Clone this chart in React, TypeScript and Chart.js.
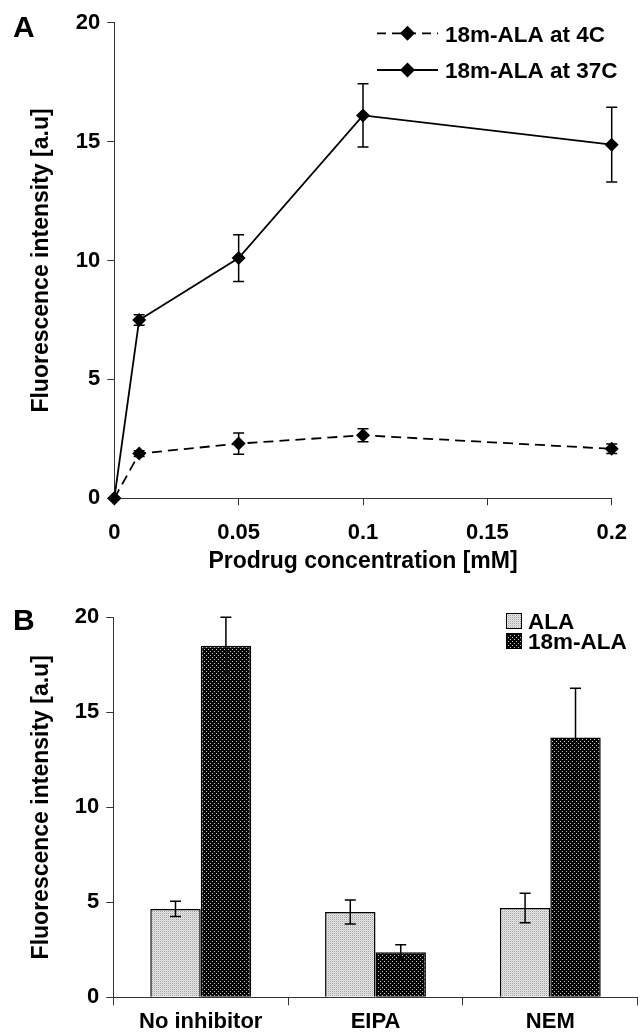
import React, { useEffect, useRef } from 'react';
import { Chart, registerables } from 'chart.js';

Chart.register(...registerables);

const FONT_FAMILY = '"Liberation Sans", Arial, Helvetica, sans-serif';

// ---- Panel A data ----
const concentrations = [0, 0.01, 0.05, 0.1, 0.2];
const concentrationTicks = [0, 0.05, 0.1, 0.15, 0.2];
const intensityAt4C = [0, 1.88, 2.3, 2.65, 2.08];
const errorAt4C = [0, 0.12, 0.45, 0.27, 0.2];
const intensityAt37C = [0, 7.5, 10.1, 16.1, 14.87];
const errorAt37C = [0, 0.22, 0.98, 1.33, 1.57];
const seriesNamesA = ['18m-ALA at 4C', '18m-ALA at 37C'];

// ---- Panel B data ----
const inhibitors = ['No inhibitor', 'EIPA', 'NEM'];
const alaValues = [4.65, 4.49, 4.7];
const alaErrors = [0.4, 0.63, 0.78];
const m18AlaValues = [18.5, 2.37, 13.68];
const m18AlaErrors = [1.5, 0.4, 2.58];
const seriesNamesB = ['ALA', '18m-ALA'];

const intensityTicks = [0, 5, 10, 15, 20];
const yTitle = 'Fluorescence intensity [a.u]';
const xTitleA = 'Prodrug concentration [mM]';

const boldFont = (size: number) => ({ family: FONT_FAMILY, size, weight: 'bold' as const });

function makePattern(kind: 'light' | 'dark'): CanvasPattern | string {
  const c = document.createElement('canvas');
  const ctx = c.getContext('2d');
  if (!ctx) return kind === 'light' ? '#d4d4d4' : '#111';
  if (kind === 'light') {
    c.width = 2; c.height = 2;
    ctx.fillStyle = '#e8e8e8';
    ctx.fillRect(0, 0, 2, 2);
    ctx.fillStyle = '#a0a0a0';
    ctx.fillRect(0, 0, 1, 1);
    ctx.fillStyle = '#d0d0d0';
    ctx.fillRect(1, 1, 1, 1);
  } else {
    c.width = 4; c.height = 4;
    ctx.fillStyle = '#050505';
    ctx.fillRect(0, 0, 4, 4);
    ctx.fillStyle = '#c8c8c8';
    ctx.fillRect(0, 0, 1, 1);
    ctx.fillRect(2, 2, 1, 1);
  }
  const p = ctx.createPattern(c, 'repeat');
  return p || (kind === 'light' ? '#d4d4d4' : '#111');
}

const errorBarPlugin = {
  id: 'errorBars',
  afterDatasetsDraw(chart: any) {
    const ctx = chart.ctx;
    const yScale = chart.scales.y;
    chart.data.datasets.forEach((ds: any, i: number) => {
      const errs: number[] | undefined = ds.errors;
      if (!errs) return;
      const meta = chart.getDatasetMeta(i);
      meta.data.forEach((el: any, j: number) => {
        const e = errs[j];
        if (!e) return;
        const raw = ds.data[j];
        const val = typeof raw === 'number' ? raw : raw.y;
        const x = el.x;
        const yTop = yScale.getPixelForValue(val + e);
        const yBot = yScale.getPixelForValue(val - e);
        ctx.save();
        ctx.strokeStyle = '#000';
        ctx.lineWidth = 1.5;
        ctx.setLineDash([]);
        ctx.beginPath();
        ctx.moveTo(x, yTop); ctx.lineTo(x, yBot);
        ctx.moveTo(x - 5.5, yTop); ctx.lineTo(x + 5.5, yTop);
        ctx.moveTo(x - 5.5, yBot); ctx.lineTo(x + 5.5, yBot);
        ctx.stroke();
        ctx.restore();
      });
    });
  },
};

function diamond(ctx: CanvasRenderingContext2D, x: number, y: number, r: number) {
  ctx.beginPath();
  ctx.moveTo(x - r, y);
  ctx.lineTo(x, y - r);
  ctx.lineTo(x + r, y);
  ctx.lineTo(x, y + r);
  ctx.closePath();
  ctx.fill();
}

const axisCommon = {
  grid: { drawOnChartArea: false, drawTicks: true, tickLength: 7, color: '#333', lineWidth: 1 },
  border: { display: true, color: '#333', width: 1 },
};

export default function App() {
  const refA = useRef<HTMLCanvasElement>(null);
  const refB = useRef<HTMLCanvasElement>(null);

  useEffect(() => {
    if (!refA.current || !refB.current) return;

    const decorA = {
      id: 'decorA',
      afterDraw(chart: any) {
        const ctx = chart.ctx as CanvasRenderingContext2D;
        ctx.save();
        ctx.fillStyle = '#000';
        ctx.textBaseline = 'alphabetic';
        ctx.textAlign = 'left';
        ctx.font = `bold 30px ${FONT_FAMILY}`;
        ctx.fillText('A', 13, 37);
        // legend
        const rows = [33.3, 70];
        ctx.font = `bold 22.5px ${FONT_FAMILY}`;
        rows.forEach((ry, i) => {
          ctx.strokeStyle = '#000';
          ctx.lineWidth = 1.8;
          ctx.setLineDash(i === 0 ? [9, 6] : []);
          ctx.beginPath();
          ctx.moveTo(377, ry);
          ctx.lineTo(438, ry);
          ctx.stroke();
          ctx.setLineDash([]);
          diamond(ctx, 407.5, ry, 7.5);
          ctx.fillText(seriesNamesA[i], 445, ry + 8.2);
        });
        ctx.restore();
      },
    };

    const chartA = new Chart(refA.current, {
      type: 'line',
      data: {
        datasets: [
          {
            label: seriesNamesA[0],
            data: concentrations.map((c, i) => ({ x: c, y: intensityAt4C[i] })),
            errors: errorAt4C,
            borderColor: '#000',
            backgroundColor: '#000',
            borderWidth: 1.8,
            borderDash: [10, 6],
            pointStyle: 'rectRot',
            pointRadius: 7,
            pointBackgroundColor: '#000',
            pointBorderWidth: 0,
            tension: 0,
            clip: false,
          } as any,
          {
            label: seriesNamesA[1],
            data: concentrations.map((c, i) => ({ x: c, y: intensityAt37C[i] })),
            errors: errorAt37C,
            borderColor: '#000',
            backgroundColor: '#000',
            borderWidth: 1.8,
            pointStyle: 'rectRot',
            pointRadius: 7,
            pointBackgroundColor: '#000',
            pointBorderWidth: 0,
            tension: 0,
            clip: false,
          } as any,
        ],
      },
      options: {
        animation: false,
        responsive: false,
        events: [],
        layout: { padding: { left: 0, top: 22.7, right: 19, bottom: 9.2 } },
        plugins: { legend: { display: false }, tooltip: { enabled: false } },
        scales: {
          x: {
            type: 'linear',
            min: 0,
            max: 0.2,
            afterBuildTicks: (axis: any) => { axis.ticks = concentrationTicks.map((v) => ({ value: v })); },
            afterFit: (axis: any) => { axis.height = 77.5; },
            ticks: {
              font: boldFont(22), color: '#000', padding: 14, maxRotation: 0, autoSkip: false,
              callback: (v: any) => String(Number(Number(v).toFixed(3))),
            },
            ...axisCommon,
            title: { display: true, text: xTitleA, font: boldFont(23), color: '#000', padding: { top: 0, bottom: 0 } },
          },
          y: {
            type: 'linear',
            min: 0,
            max: 20,
            afterBuildTicks: (axis: any) => { axis.ticks = intensityTicks.map((v) => ({ value: v })); },
            afterFit: (axis: any) => { axis.width = 114.3; },
            ticks: { font: boldFont(22), color: '#000', padding: 7, callback: (v: any) => String(v) },
            ...axisCommon,
            title: { display: true, text: yTitle, font: boldFont(23), color: '#000', padding: { top: 28, bottom: 0 } },
          },
        },
      } as any,
      plugins: [errorBarPlugin, decorA],
    });

    const lightPattern = makePattern('light');
    const darkPattern = makePattern('dark');

    const decorB = {
      id: 'decorB',
      afterDraw(chart: any) {
        const ctx = chart.ctx as CanvasRenderingContext2D;
        ctx.save();
        ctx.fillStyle = '#000';
        ctx.textBaseline = 'alphabetic';
        ctx.textAlign = 'left';
        ctx.font = `bold 30px ${FONT_FAMILY}`;
        ctx.fillText('B', 13, 45);
        ctx.font = `bold 22.5px ${FONT_FAMILY}`;
        const fills = [lightPattern, darkPattern];
        const rows = [28, 48];
        rows.forEach((ry, i) => {
          ctx.fillStyle = fills[i] as any;
          ctx.fillRect(506, ry, 16, 16);
          ctx.strokeStyle = '#000';
          ctx.lineWidth = 1;
          ctx.strokeRect(506.5, ry + 0.5, 15, 15);
          ctx.fillStyle = '#000';
          ctx.fillText(seriesNamesB[i], 528, ry + 16);
        });
        ctx.restore();
      },
    };

    const chartB = new Chart(refB.current, {
      type: 'bar',
      data: {
        labels: inhibitors,
        datasets: [
          {
            label: seriesNamesB[0],
            data: alaValues,
            errors: alaErrors,
            backgroundColor: lightPattern,
            borderColor: '#000',
            borderWidth: 1.5,
            categoryPercentage: 0.577,
            barPercentage: 1,
          } as any,
          {
            label: seriesNamesB[1],
            data: m18AlaValues,
            errors: m18AlaErrors,
            backgroundColor: darkPattern,
            borderColor: '#000',
            borderWidth: 1.5,
            categoryPercentage: 0.577,
            barPercentage: 1,
          } as any,
        ],
      },
      options: {
        animation: false,
        responsive: false,
        events: [],
        layout: { padding: { left: 0, top: 32.3, right: 3.3, bottom: 0 } },
        plugins: { legend: { display: false }, tooltip: { enabled: false } },
        scales: {
          x: {
            type: 'category',
            afterFit: (axis: any) => { axis.height = 37.7; },
            ticks: { font: boldFont(22), color: '#000', padding: 3.5, maxRotation: 0, autoSkip: false },
            grid: { offset: true, drawOnChartArea: false, drawTicks: true, tickLength: 8, color: '#333', lineWidth: 1 },
            border: { display: true, color: '#333', width: 1 },
          },
          y: {
            type: 'linear',
            min: 0,
            max: 20,
            afterBuildTicks: (axis: any) => { axis.ticks = intensityTicks.map((v) => ({ value: v })); },
            afterFit: (axis: any) => { axis.width = 113.3; },
            ticks: { font: boldFont(22), color: '#000', padding: 7, callback: (v: any) => String(v) },
            ...axisCommon,
            title: { display: true, text: yTitle, font: boldFont(23), color: '#000', padding: { top: 28, bottom: 0 } },
          },
        },
      } as any,
      plugins: [errorBarPlugin, decorB],
    });

    return () => {
      chartA.destroy();
      chartB.destroy();
    };
  }, []);

  return (
    <div style={{ position: 'absolute', left: 0, top: 0, width: 641, height: 1035, background: '#fff' }}>
      <canvas ref={refA} width={641} height={585} style={{ position: 'absolute', left: 0, top: 0, display: 'block' }} />
      <canvas ref={refB} width={641} height={450} style={{ position: 'absolute', left: 0, top: 585, display: 'block' }} />
    </div>
  );
}
